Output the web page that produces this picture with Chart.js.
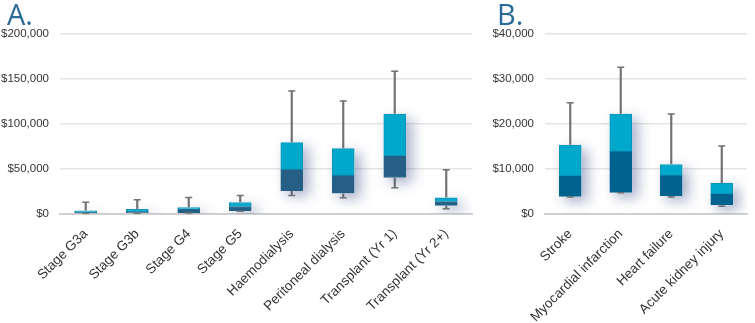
<!DOCTYPE html>
<html>
<head>
<meta charset="utf-8">
<script src="https://cdn.jsdelivr.net/npm/chart.js@4.4.1/dist/chart.umd.min.js"></script>
<style>
  body { margin: 0; background: #fff; width: 755px; height: 323px; overflow: hidden; position: relative; }
  .panel { position: absolute; top: 0; height: 323px; }
  .lbl { position: absolute; top: -6px; font-family: "Open Sans", sans-serif; font-size: 29px; color: #2a6a98; }
</style>
</head>
<body>
<div class="panel" style="left:0;width:480px"><canvas id="chartA"></canvas></div>
<div class="panel" style="left:480px;width:275px"><canvas id="chartB"></canvas></div>
<div class="lbl" style="left:7px">A.</div>
<div class="lbl" style="left:497px">B.</div>
<script>
// panel A - CKD stages and kidney replacement therapy
var catsA = ['Stage G3a', 'Stage G3b', 'Stage G4', 'Stage G5', 'Haemodialysis', 'Peritoneal dialysis', 'Transplant (Yr 1)', 'Transplant (Yr 2+)'];
var minA = [500, 800, 1000, 3000, 20600, 18000, 29200, 5800];
var q1A  = [1000, 1300, 1500, 3500, 25800, 23200, 40600, 9500];
var medA = [2000, 3000, 5500, 8300, 49600, 42900, 64800, 13900];
var q3A  = [3500, 5300, 7200, 12800, 79300, 72600, 111100, 18000];
var maxA = [13000, 15800, 18400, 20600, 136700, 125600, 158700, 49200];
var ticksA = [0, 50000, 100000, 150000, 200000];

// panel B - complications
var catsB = ['Stroke', 'Myocardial infarction', 'Heart failure', 'Acute kidney injury'];
var minB = [3800, 4700, 3800, 1700];
var q1B  = [3900, 4800, 4100, 2000];
var medB = [8500, 13900, 8600, 4500];
var q3B  = [15300, 22200, 11000, 6800];
var maxB = [24700, 32600, 22200, 15100];
var ticksB = [0, 10000, 20000, 30000, 40000];

const boxShadow = {
  id: 'boxShadow',
  beforeDatasetDraw(chart, args) {
    if (!chart.data.datasets[args.index].shadow) return;
    const ctx = chart.ctx;
    ctx.save();
    ctx.shadowColor = 'rgba(50,70,130,0.42)';
    ctx.shadowBlur = 13;
    ctx.shadowOffsetX = 6;
    ctx.shadowOffsetY = 5;
  },
  afterDatasetDraw(chart, args) {
    if (!chart.data.datasets[args.index].shadow) return;
    chart.ctx.restore();
  }
};

function pair(a, b) {
  return a.map((v, i) => [v, b[i]]);
}

function makeChart(id, cats, mn, q1, med, q3, mx, yMax, yStep, yWidth, darkCol) {
  var whisk = '#727272';
  return new Chart(document.getElementById(id), {
    data: {
      labels: cats,
      datasets: [
        { type: 'line', data: mx, showLine: false, pointStyle: 'line', pointRadius: 3.5,
          borderColor: whisk, borderWidth: 1.5, order: 1 },
        { type: 'line', data: mn, showLine: false, pointStyle: 'line', pointRadius: 3.5,
          borderColor: whisk, borderWidth: 1.5, order: 1 },
        { type: 'bar', data: pair(med, q3), backgroundColor: '#00a8cc', borderColor: '#0c94b8',
          borderWidth: 1, borderSkipped: false, barThickness: 22, grouped: false, order: 2 },
        { type: 'bar', data: pair(q1, med), backgroundColor: darkCol, borderColor: darkCol,
          borderWidth: 1, borderSkipped: false, barThickness: 22, grouped: false, order: 3 },
        { type: 'bar', data: pair(q1, q3), backgroundColor: '#ffffff', shadow: true,
          borderWidth: 0, barThickness: 22, grouped: false, order: 4 },
        { type: 'bar', data: pair(mn, mx), backgroundColor: whisk,
          borderWidth: 0, barThickness: 1.5, grouped: false, order: 5 }
      ]
    },
    options: {
      responsive: true,
      maintainAspectRatio: false,
      animation: false,
      events: [],
      layout: { padding: { left: 0, right: 8, top: 34, bottom: 0 } },
      plugins: { legend: { display: false }, tooltip: { enabled: false } },
      scales: {
        x: {
          grid: { display: false },
          border: { display: true, color: '#d0d0d0', width: 2 },
          ticks: {
            minRotation: 45, maxRotation: 45, padding: 4, color: '#333333',
            font: { family: 'Liberation Sans', size: 13.5 }
          },
          afterFit(scale) { scale.height = 109; }
        },
        y: {
          min: 0, max: yMax,
          grid: { color: '#e4e4e4', lineWidth: 1.5, drawTicks: false },
          border: { display: false },
          ticks: {
            stepSize: yStep, padding: 11, color: '#333333',
            font: { family: 'Liberation Sans', size: 11.5 },
            callback: (v) => '$' + v.toLocaleString('en-US')
          },
          afterFit(scale) { scale.width = yWidth; }
        }
      }
    },
    plugins: [boxShadow]
  });
}

makeChart('chartA', catsA, minA, q1A, medA, q3A, maxA, ticksA[ticksA.length - 1], ticksA[1], 60, '#255f85');
makeChart('chartB', catsB, minB, q1B, medB, q3B, maxB, ticksB[ticksB.length - 1], ticksB[1], 65, '#00628e');
</script>
</body>
</html>
